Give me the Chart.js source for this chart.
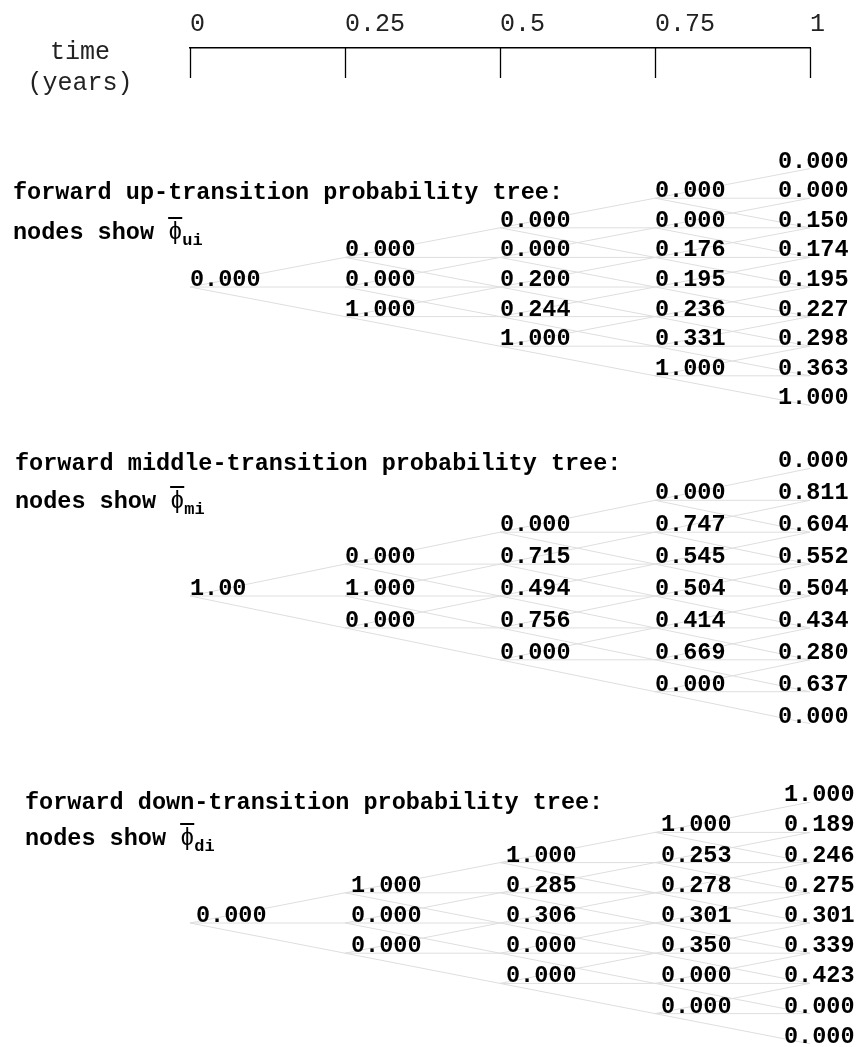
<!DOCTYPE html>
<html>
<head>
<meta charset="utf-8">
<script src="https://cdn.jsdelivr.net/npm/chart.js@4.4.1/dist/chart.umd.min.js"></script>
<style>
  html, body { margin: 0; padding: 0; background: #fff; overflow: hidden; }
  body { width: 863px; height: 1047px; position: relative; font-family: "Liberation Mono", "Courier New", monospace; }
  canvas { position: absolute; left: 0; }
  #axisChart { top: 0; }
  #treeChart { top: 110px; }
  .txt { position: absolute; white-space: pre; line-height: 1; color: #000; }
  .axisname { left: 0; width: 160px; text-align: center; font-size: 25px; color: #222; }
  .ttl { font-size: 23.5px; font-weight: bold; }
  .phi { font-weight: normal; text-decoration: overline; }
  .ttl sub { font-size: 17px; vertical-align: -6px; line-height: 0; }
</style>
</head>
<body>
<canvas id="axisChart" width="863" height="110"></canvas>
<canvas id="treeChart" width="863" height="937"></canvas>
<div class="txt axisname" style="top:40px">time</div>
<div class="txt axisname" style="top:71px">(years)</div>
<script>
// time steps of the tree (years) and the axis labels
var times = [0, 0.25, 0.5, 0.75, 1];
var timeTicks = ['0', '0.25', '0.5', '0.75', '1'];

// node values per time step, top node first
var upTree = [
    [0.000],
    [0.000, 0.000, 1.000],
    [0.000, 0.000, 0.200, 0.244, 1.000],
    [0.000, 0.000, 0.176, 0.195, 0.236, 0.331, 1.000],
    [0.000, 0.000, 0.150, 0.174, 0.195, 0.227, 0.298, 0.363, 1.000]
];
var midTree = [
    [1.00],
    [0.000, 1.000, 0.000],
    [0.000, 0.715, 0.494, 0.756, 0.000],
    [0.000, 0.747, 0.545, 0.504, 0.414, 0.669, 0.000],
    [0.000, 0.811, 0.604, 0.552, 0.504, 0.434, 0.280, 0.637, 0.000]
];
var downTree = [
    [0.000],
    [1.000, 0.000, 0.000],
    [1.000, 0.285, 0.306, 0.000, 0.000],
    [1.000, 0.253, 0.278, 0.301, 0.350, 0.000, 0.000],
    [1.000, 0.189, 0.246, 0.275, 0.301, 0.339, 0.423, 0.000, 0.000]
];
var rootDigits = [3, 2, 3];

var treeNames = ['up', 'middle', 'down'];
var treeSubs = ['ui', 'mi', 'di'];
var trees = [upTree, midTree, downTree];

// layout (page pixels)
var TREE_TOP = 110;
var TREE_H = 937;
var TICK_DROP = 30;
var treeCenter = [287, 596, 923];
var rowGap = [29.6, 31.9, 30.2];
var labelShift = [0, 0, 6];
var titleLeft = [13, 15, 25];
var titleY = [192, 463, 802];
var subtitleY = [232, 501, 838];

// titles
trees.forEach(function (t, k) {
    var a = document.createElement('div');
    a.className = 'txt ttl';
    a.style.left = titleLeft[k] + 'px';
    a.style.top = (titleY[k] - 11) + 'px';
    a.textContent = 'forward ' + treeNames[k] + '-transition probability tree:';
    document.body.appendChild(a);
    var b = document.createElement('div');
    b.className = 'txt ttl';
    b.style.left = titleLeft[k] + 'px';
    b.style.top = (subtitleY[k] - 11) + 'px';
    b.innerHTML = 'nodes show <span class="phi">\u03D5</span><sub>' + treeSubs[k] + '</sub>';
    document.body.appendChild(b);
});

// tick marks hanging below the time axis line
var hangingTicks = {
    id: 'hangingTicks',
    afterDraw: function (chart) {
        var sc = chart.scales.x;
        var ctx = chart.ctx;
        ctx.save();
        ctx.strokeStyle = '#000';
        ctx.lineWidth = 1.3;
        sc.ticks.forEach(function (t) {
            var px = Math.round(sc.getPixelForValue(t.value)) + 0.5;
            ctx.beginPath();
            ctx.moveTo(px, sc.bottom);
            ctx.lineTo(px, sc.bottom + TICK_DROP);
            ctx.stroke();
        });
        ctx.restore();
    }
};

// time axis
new Chart(document.getElementById('axisChart'), {
    type: 'scatter',
    data: { datasets: [] },
    options: {
        responsive: false,
        animation: false,
        layout: { padding: { left: 190, right: 53, top: 0, bottom: 0 } },
        plugins: { legend: { display: false }, tooltip: { enabled: false } },
        scales: {
            x: {
                type: 'linear',
                position: 'top',
                min: 0,
                max: 1,
                ticks: {
                    stepSize: 0.25,
                    align: 'start',
                    padding: 14,
                    maxRotation: 0,
                    autoSkip: false,
                    color: '#222',
                    font: { family: 'Liberation Mono', size: 25, lineHeight: 0.8 },
                    callback: function (v) {
                        var i = times.indexOf(v);
                        return i >= 0 ? timeTicks[i] : '';
                    }
                },
                grid: { color: '#000', drawTicks: false, drawOnChartArea: false },
                border: { display: true, color: '#000', width: 1.5 }
            },
            y: { display: false, min: 0, max: 1 }
        }
    },
    plugins: [hangingTicks]
});

// edges: each node goes to three children (up, level, down)
function edgeData(tree) {
    var pts = [];
    for (var k = 0; k < tree.length - 1; k++) {
        for (var i = 0; i < tree[k].length; i++) {
            var lvl = k - i;
            [1, 0, -1].forEach(function (d) {
                pts.push({ x: times[k], y: lvl });
                pts.push({ x: times[k + 1], y: lvl + d });
                pts.push({ x: times[k + 1], y: null });
            });
        }
    }
    return pts;
}

var treeScales = { x: { type: 'linear', display: false, min: 0, max: 1 } };
var datasets = [];
trees.forEach(function (t, k) {
    var max = (treeCenter[k] - TREE_TOP) / rowGap[k];
    treeScales['y' + k] = { type: 'linear', display: false, bounds: 'data', min: max - TREE_H / rowGap[k], max: max };
    datasets.push({
        data: edgeData(t),
        yAxisID: 'y' + k,
        showLine: true,
        spanGaps: false,
        borderColor: '#dedede',
        borderWidth: 1,
        pointRadius: 0,
        tension: 0
    });
});

// node values written at each node
var nodeLabels = {
    id: 'nodeLabels',
    afterDatasetsDraw: function (chart) {
        var ctx = chart.ctx;
        var xs = chart.scales.x;
        ctx.save();
        ctx.font = 'bold 23.5px "Liberation Mono"';
        ctx.fillStyle = '#000';
        ctx.textAlign = 'left';
        ctx.textBaseline = 'middle';
        trees.forEach(function (tree, n) {
            var ys = chart.scales['y' + n];
            tree.forEach(function (col, k) {
                col.forEach(function (v, i) {
                    var px = xs.getPixelForValue(times[k]);
                    var py = ys.getPixelForValue(k - i);
                    var left = Math.min(px, chart.chartArea.right - 32) + labelShift[n];
                    var txt = v.toFixed(k === 0 ? rootDigits[n] : 3);
                    ctx.fillText(txt, left, py - 7);
                });
            });
        });
        ctx.restore();
    }
};

new Chart(document.getElementById('treeChart'), {
    type: 'scatter',
    data: { datasets: datasets },
    options: {
        responsive: false,
        animation: false,
        layout: { padding: { left: 190, right: 53, top: 0, bottom: 0 } },
        plugins: { legend: { display: false }, tooltip: { enabled: false } },
        scales: treeScales
    },
    plugins: [nodeLabels]
});
</script>
</body>
</html>
